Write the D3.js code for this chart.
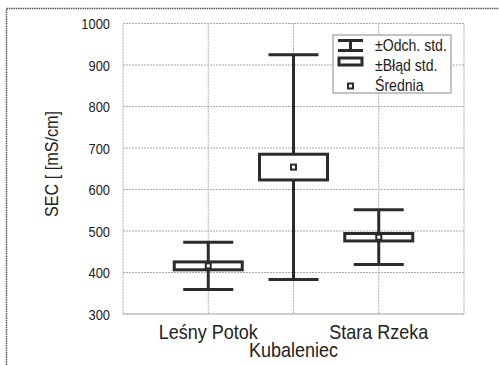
<html>
<meta charset="utf-8">
<script src="https://d3js.org/d3.v7.min.js"></script>
<style>
  body { margin: 0; background: #fff; }
  text { font-family: "Liberation Sans", Arial, sans-serif; fill: #222; }
</style>
<div id="chart"></div>
<script>
let categories = ["Leśny Potok", "Kubaleniec", "Stara Rzeka"]
let means = [416, 654, 485]
let stdDev = [57, 271, 66]
let stdErr = [9.5, 31, 9]
let yTicks = [300, 400, 500, 600, 700, 800, 900, 1000]
let legendText = ["±Odch. std.", "±Błąd std.", "Średnia"]

let width = 499, height = 365
let plotLeft = 123, plotRight = 464, plotTop = 23.5, plotBottom = 314
let ink = "#2b2b2b"
let narrow = 0.86   // squeeze Liberation Sans to look like a narrow face

let svg = d3.select("#chart").append("svg")
    .attr("width", width)
    .attr("height", height)

// outer frame (top and left only visible)
svg.append("path")
    .attr("d", "M6.5,365 V8.5 H499")
    .attr("fill", "none")
    .attr("stroke", "#555")
    .attr("stroke-width", 1.5)
    .attr("stroke-dasharray", "1.5,0.8")

let x = d3.scalePoint().domain(categories).range([plotLeft, plotRight]).padding(1)
let y = d3.scaleLinear().domain([300, 1000]).range([plotBottom, plotTop])

// grid
svg.append("g").selectAll("line").data(yTicks).join("line")
    .attr("x1", plotLeft).attr("x2", plotRight)
    .attr("y1", d => y(d)).attr("y2", d => y(d))
    .attr("stroke", "#aaa").attr("stroke-dasharray", "2,1")
svg.append("g").selectAll("line").data(categories).join("line")
    .attr("x1", d => x(d)).attr("x2", d => x(d))
    .attr("y1", plotTop).attr("y2", plotBottom)
    .attr("stroke", "#aaa").attr("stroke-dasharray", "2,1")
svg.append("rect")
    .attr("x", plotLeft).attr("y", plotTop)
    .attr("width", plotRight - plotLeft).attr("height", plotBottom - plotTop)
    .attr("fill", "none").attr("stroke", "#aaa").attr("stroke-dasharray", "2,1")

// y axis labels
let yAxis = svg.append("g")
    .attr("transform", "translate(110,0)")
    .call(d3.axisLeft(y).tickValues(yTicks).tickFormat(d3.format("d")).tickSize(0).tickPadding(0))
yAxis.select(".domain").remove()
yAxis.selectAll("text")
    .attr("x", 0)
    .attr("dy", "0.36em")
    .attr("transform", "scale(" + narrow + ",1)")
    .attr("font-size", "15px")
    .attr("font-family", "Liberation Sans, Arial, sans-serif")
    .attr("fill", "#222")

// category labels (staggered)
svg.append("g").selectAll("text").data(categories).join("text")
    .attr("transform", (d, i) => "translate(" + x(d) + "," + (i % 2 == 1 ? 357 : 339) + ") scale(0.9,1)")
    .attr("text-anchor", "middle")
    .attr("font-size", "20px")
    .text(d => d)

svg.append("text")
    .attr("transform", "translate(58,164) rotate(-90) scale(0.9,1)")
    .attr("text-anchor", "middle")
    .attr("font-size", "18px")
    .text("SEC [ [mS/cm]")

// marks
let idx = d3.range(categories.length)
let g = svg.append("g")
g.selectAll(".stem").data(idx).join("line")
    .attr("x1", i => x(categories[i])).attr("x2", i => x(categories[i]))
    .attr("y1", i => y(means[i] + stdDev[i])).attr("y2", i => y(means[i] - stdDev[i]))
    .attr("stroke", ink).attr("stroke-width", 3)
g.selectAll(".capTop").data(idx).join("line")
    .attr("x1", i => x(categories[i]) - 25).attr("x2", i => x(categories[i]) + 25)
    .attr("y1", i => y(means[i] + stdDev[i])).attr("y2", i => y(means[i] + stdDev[i]))
    .attr("stroke", ink).attr("stroke-width", 3)
g.selectAll(".capBot").data(idx).join("line")
    .attr("x1", i => x(categories[i]) - 25).attr("x2", i => x(categories[i]) + 25)
    .attr("y1", i => y(means[i] - stdDev[i])).attr("y2", i => y(means[i] - stdDev[i]))
    .attr("stroke", ink).attr("stroke-width", 3)
g.selectAll(".box").data(idx).join("rect")
    .attr("x", i => x(categories[i]) - 34)
    .attr("y", i => y(means[i] + stdErr[i]))
    .attr("width", 68)
    .attr("height", i => y(means[i] - stdErr[i]) - y(means[i] + stdErr[i]))
    .attr("fill", "#fff").attr("stroke", ink).attr("stroke-width", 3)
g.selectAll(".mean").data(idx).join("rect")
    .attr("x", i => x(categories[i]) - 2.5)
    .attr("y", i => y(means[i]) - 2.5)
    .attr("width", 5).attr("height", 5)
    .attr("fill", "#fff").attr("stroke", ink).attr("stroke-width", 2)

// legend
let lg = svg.append("g").attr("transform", "translate(333,35)")
lg.append("rect").attr("width", 118).attr("height", 58)
    .attr("fill", "#fff").attr("stroke", "#888").attr("stroke-width", 1)
lg.append("path").attr("d", "M5,5.5 H30 M17.5,5.5 V15.5 M5,15.5 H30")
    .attr("fill", "none").attr("stroke", ink).attr("stroke-width", 3)
lg.append("rect").attr("x", 6).attr("y", 23).attr("width", 23).attr("height", 7)
    .attr("fill", "#fff").attr("stroke", ink).attr("stroke-width", 3)
lg.append("rect").attr("x", 15).attr("y", 48.5).attr("width", 5).attr("height", 5)
    .attr("fill", "#fff").attr("stroke", ink).attr("stroke-width", 2)
lg.selectAll(".lt").data(legendText).join("text")
    .attr("transform", (d, i) => "translate(42," + [16, 36, 56][i] + ") scale(0.88,1)")
    .attr("font-size", "16px")
    .text(d => d)
</script>
</html>
